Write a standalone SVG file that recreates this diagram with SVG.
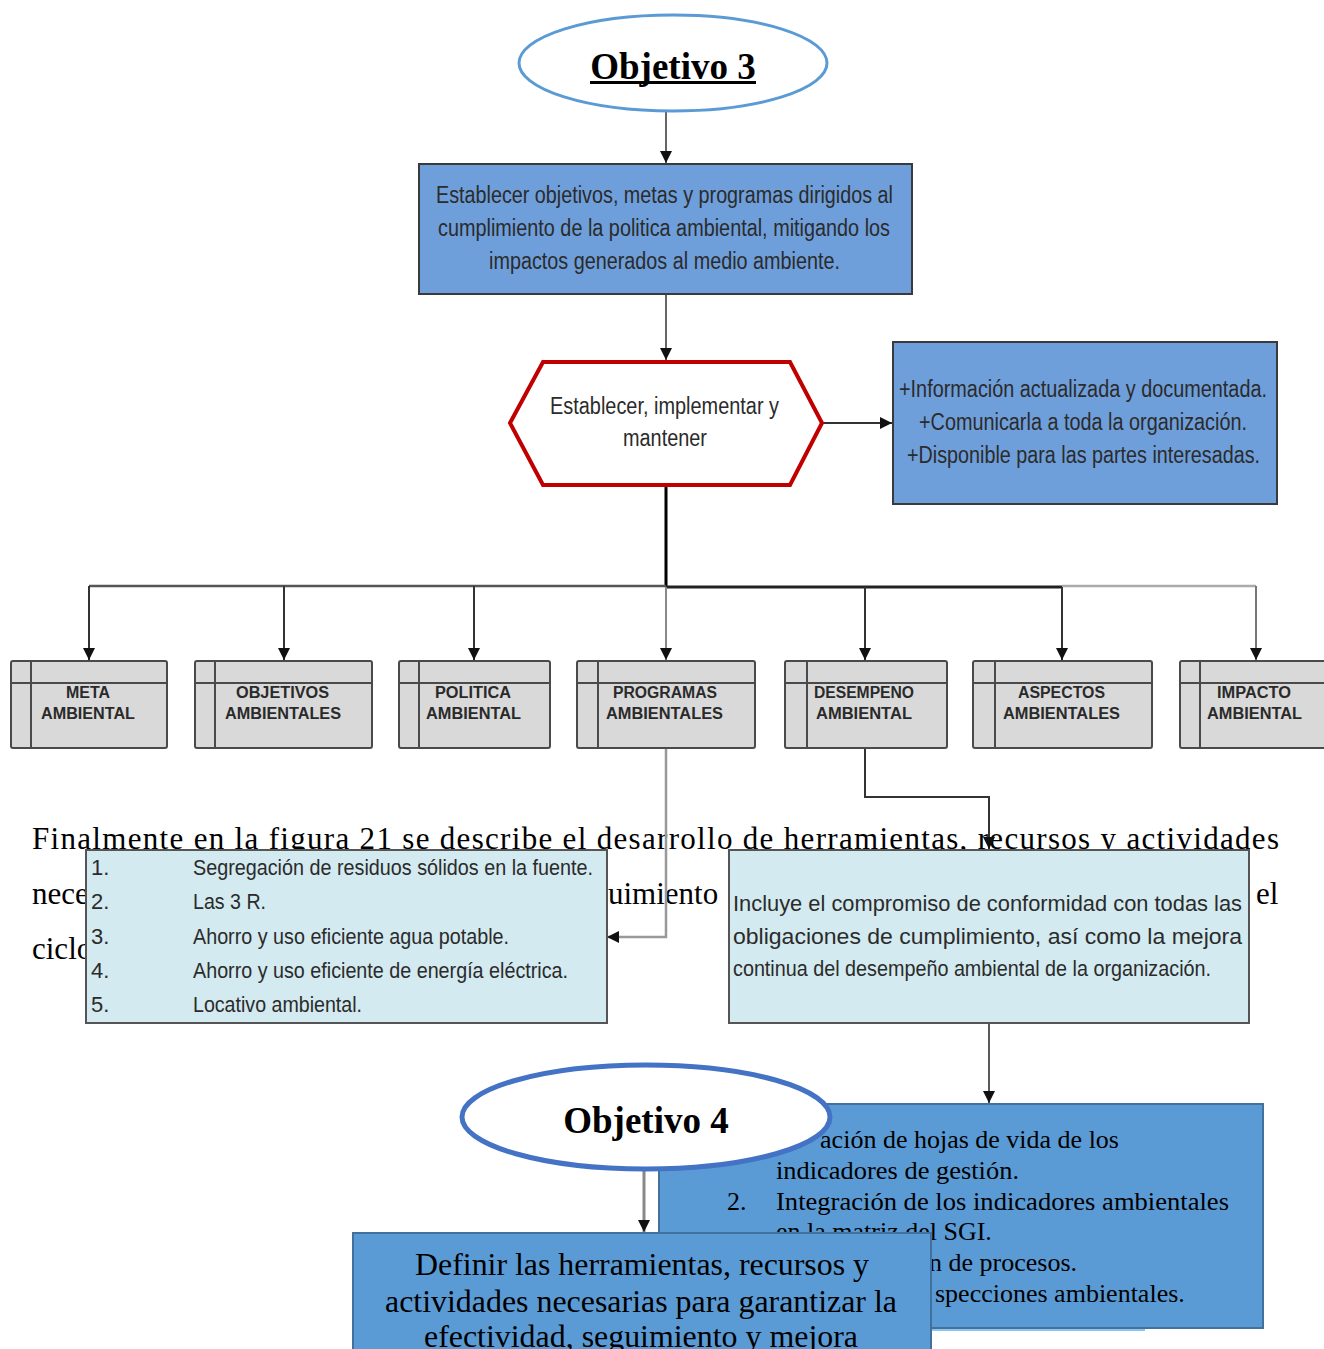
<svg xmlns="http://www.w3.org/2000/svg" width="1324" height="1349" viewBox="0 0 1324 1349">
<defs>
<marker id="arr" markerUnits="userSpaceOnUse" markerWidth="12" markerHeight="14" refX="12" refY="6" orient="auto">
<path d="M0,0 L12,6 L0,12 Z" fill="#111"/>
</marker>
<style>
.sans{font-family:"Liberation Sans",Arial,sans-serif;fill:#2b2b2b;}
.t23{font-size:23px;}
.t22{font-size:22px;}
.lbl{font-family:"Liberation Sans",Arial,sans-serif;font-weight:bold;font-size:16px;fill:#2a2a2a;}
.serif{font-family:"Liberation Serif","Times New Roman",serif;fill:#000;}
.gbox{fill:#d9d9d9;stroke:#4a4a4a;stroke-width:2;}
.gline{stroke:#4a4a4a;stroke-width:2;fill:none;}
.conn{fill:none;stroke:#333;stroke-width:2;}
.blue{fill:#5b9bd5;stroke:#41719c;stroke-width:2;}
.blue2{fill:#6e9fdb;stroke:#3a3a3a;stroke-width:2;}
.light{fill:#d3eaf0;stroke:#555;stroke-width:2;}
</style>
</defs>

<g id="paragraph">
<text class="serif" x="32" y="849" font-size="31" textLength="1247" lengthAdjust="spacing">Finalmente en la figura 21 se describe el desarrollo de herramientas, recursos y actividades</text>
<text class="serif" x="32" y="904" font-size="31">nece</text>
<text class="serif" x="608" y="904" font-size="31">uimiento</text>
<text class="serif" x="1256" y="904" font-size="31">el</text>
<text class="serif" x="32" y="959" font-size="31">ciclo</text>
</g>

<g id="connectors">
<line x1="666" y1="112" x2="666" y2="163" stroke="#666" stroke-width="2" marker-end="url(#arr)"/>
<line x1="666" y1="294" x2="666" y2="360" stroke="#666" stroke-width="2" marker-end="url(#arr)"/>
<line x1="822" y1="423" x2="892" y2="423" stroke="#333" stroke-width="2" marker-end="url(#arr)"/>
<line x1="666" y1="486" x2="666" y2="587" stroke="#000" stroke-width="3"/>
<line x1="89" y1="586" x2="666" y2="586" stroke="#555" stroke-width="2.5"/>
<line x1="666" y1="587" x2="1062" y2="587" stroke="#222" stroke-width="3"/>
<line x1="1062" y1="586" x2="1256" y2="586" stroke="#aaa" stroke-width="2.5"/>
<line x1="89" y1="586" x2="89" y2="660" class="conn" marker-end="url(#arr)"/>
<line x1="284" y1="586" x2="284" y2="660" class="conn" stroke="#555" marker-end="url(#arr)"/>
<line x1="474" y1="586" x2="474" y2="660" class="conn" marker-end="url(#arr)"/>
<line x1="666" y1="587" x2="666" y2="660" stroke="#888" stroke-width="2" marker-end="url(#arr)"/>
<line x1="865" y1="587" x2="865" y2="660" class="conn" marker-end="url(#arr)"/>
<line x1="1062" y1="587" x2="1062" y2="660" class="conn" marker-end="url(#arr)"/>
<line x1="1256" y1="586" x2="1256" y2="660" stroke="#777" stroke-width="2" marker-end="url(#arr)"/>
<polyline points="666,748 666,937 607,937" fill="none" stroke="#999" stroke-width="2.5" marker-end="url(#arr)"/>
<polyline points="865,748 865,797 989,797 989,849" class="conn" marker-end="url(#arr)"/>
<line x1="989" y1="1023" x2="989" y2="1103" stroke="#222" stroke-width="1.5" marker-end="url(#arr)"/>
<line x1="644" y1="1170" x2="644" y2="1232" stroke="#888" stroke-width="3" marker-end="url(#arr)"/>
</g>

<g id="objetivo3">
<ellipse cx="673" cy="63" rx="154" ry="48" fill="#fff" stroke="#5b9bd5" stroke-width="3"/>
<text class="serif" x="673" y="79" font-size="37" font-weight="bold" text-anchor="middle">Objetivo 3</text>
<rect x="590" y="81" width="166" height="3" fill="#000"/>
</g>

<g id="establecer-objetivos">
<rect x="419" y="164" width="493" height="130" class="blue2"/>
<text class="sans t23" x="436" y="203" textLength="457" lengthAdjust="spacingAndGlyphs">Establecer objetivos, metas y programas dirigidos al</text>
<text class="sans t23" x="438" y="236" textLength="452" lengthAdjust="spacingAndGlyphs">cumplimiento de la politica ambiental, mitigando los</text>
<text class="sans t23" x="489" y="269" textLength="351" lengthAdjust="spacingAndGlyphs">impactos generados al medio ambiente.</text>
</g>

<g id="hexagono">
<polygon points="510,423 543,362 790,362 822,423 790,485 543,485" fill="#fff" stroke="#c00000" stroke-width="4"/>
<text class="sans t23" x="550" y="414" textLength="229" lengthAdjust="spacingAndGlyphs">Establecer, implementar y</text>
<text class="sans t23" x="623" y="446" textLength="84" lengthAdjust="spacingAndGlyphs">mantener</text>
</g>

<g id="informacion">
<rect x="893" y="342" width="384" height="162" class="blue2"/>
<text class="sans t23" x="899" y="397" textLength="368" lengthAdjust="spacingAndGlyphs">+Información actualizada y documentada.</text>
<text class="sans t23" x="919" y="430" textLength="328" lengthAdjust="spacingAndGlyphs">+Comunicarla a toda la organización.</text>
<text class="sans t23" x="907" y="463" textLength="353" lengthAdjust="spacingAndGlyphs">+Disponible para las partes interesadas.</text>
</g>

<g id="meta">
<rect x="11" y="661" width="156" height="87" rx="2" class="gbox"/>
<line x1="31" y1="661" x2="31" y2="748" class="gline"/><line x1="11" y1="683" x2="167" y2="683" class="gline"/>
<text class="lbl" x="66" y="698" textLength="44" lengthAdjust="spacingAndGlyphs">META</text>
<text class="lbl" x="41" y="719" textLength="94" lengthAdjust="spacingAndGlyphs">AMBIENTAL</text>
</g>
<g id="objetivos">
<rect x="195" y="661" width="177" height="87" rx="2" class="gbox"/>
<line x1="215" y1="661" x2="215" y2="748" class="gline"/><line x1="195" y1="683" x2="372" y2="683" class="gline"/>
<text class="lbl" x="236" y="698" textLength="93" lengthAdjust="spacingAndGlyphs">OBJETIVOS</text>
<text class="lbl" x="225" y="719" textLength="116" lengthAdjust="spacingAndGlyphs">AMBIENTALES</text>
</g>
<g id="politica">
<rect x="399" y="661" width="151" height="87" rx="2" class="gbox"/>
<line x1="419" y1="661" x2="419" y2="748" class="gline"/><line x1="399" y1="683" x2="550" y2="683" class="gline"/>
<text class="lbl" x="435" y="698" textLength="76" lengthAdjust="spacingAndGlyphs">POLITICA</text>
<text class="lbl" x="426" y="719" textLength="95" lengthAdjust="spacingAndGlyphs">AMBIENTAL</text>
</g>
<g id="programas">
<rect x="577" y="661" width="178" height="87" rx="2" class="gbox"/>
<line x1="598" y1="661" x2="598" y2="748" class="gline"/><line x1="577" y1="683" x2="755" y2="683" class="gline"/>
<text class="lbl" x="613" y="698" textLength="104" lengthAdjust="spacingAndGlyphs">PROGRAMAS</text>
<text class="lbl" x="606" y="719" textLength="117" lengthAdjust="spacingAndGlyphs">AMBIENTALES</text>
</g>
<g id="desempeno">
<rect x="785" y="661" width="162" height="87" rx="2" class="gbox"/>
<line x1="807" y1="661" x2="807" y2="748" class="gline"/><line x1="785" y1="683" x2="947" y2="683" class="gline"/>
<text class="lbl" x="814" y="698" textLength="100" lengthAdjust="spacingAndGlyphs">DESEMPENO</text>
<text class="lbl" x="816" y="719" textLength="96" lengthAdjust="spacingAndGlyphs">AMBIENTAL</text>
</g>
<g id="aspectos">
<rect x="973" y="661" width="179" height="87" rx="2" class="gbox"/>
<line x1="995" y1="661" x2="995" y2="748" class="gline"/><line x1="973" y1="683" x2="1152" y2="683" class="gline"/>
<text class="lbl" x="1018" y="698" textLength="87" lengthAdjust="spacingAndGlyphs">ASPECTOS</text>
<text class="lbl" x="1003" y="719" textLength="117" lengthAdjust="spacingAndGlyphs">AMBIENTALES</text>
</g>
<g id="impacto">
<rect x="1180" y="661" width="160" height="87" rx="2" class="gbox"/>
<line x1="1200" y1="661" x2="1200" y2="748" class="gline"/><line x1="1180" y1="683" x2="1340" y2="683" class="gline"/>
<text class="lbl" x="1217" y="698" textLength="74" lengthAdjust="spacingAndGlyphs">IMPACTO</text>
<text class="lbl" x="1207" y="719" textLength="95" lengthAdjust="spacingAndGlyphs">AMBIENTAL</text>
</g>

<g id="lista-programas">
<rect x="86" y="850" width="521" height="173" class="light"/>
<g class="sans t22">
<text x="91" y="875">1.</text><text x="193" y="875" textLength="400" lengthAdjust="spacingAndGlyphs">Segregación de residuos sólidos en la fuente.</text>
<text x="91" y="909">2.</text><text x="193" y="909" textLength="73" lengthAdjust="spacingAndGlyphs">Las 3 R.</text>
<text x="91" y="944">3.</text><text x="193" y="944" textLength="316" lengthAdjust="spacingAndGlyphs">Ahorro y uso eficiente agua potable.</text>
<text x="91" y="978">4.</text><text x="193" y="978" textLength="375" lengthAdjust="spacingAndGlyphs">Ahorro y uso eficiente de energía eléctrica.</text>
<text x="91" y="1012">5.</text><text x="193" y="1012" textLength="169" lengthAdjust="spacingAndGlyphs">Locativo ambiental.</text>
</g>
</g>

<g id="compromiso">
<rect x="729" y="850" width="520" height="173" class="light"/>
<text class="sans t22" x="733" y="911" textLength="509" lengthAdjust="spacingAndGlyphs">Incluye el compromiso de conformidad con todas las</text>
<text class="sans t22" x="733" y="944" textLength="509" lengthAdjust="spacingAndGlyphs">obligaciones de cumplimiento, así como la mejora</text>
<text class="sans t22" x="733" y="976" textLength="478" lengthAdjust="spacingAndGlyphs">continua del desempeño ambiental de la organización.</text>
</g>

<g id="indicadores">
<rect x="659" y="1104" width="604" height="224" class="blue"/>
<line x1="660" y1="1330" x2="1145" y2="1330" stroke="#8cc4ee" stroke-width="2"/>
<g class="serif" font-size="26">
<text x="1119" y="1148" text-anchor="end">ación de hojas de vida de los</text>
<text x="776" y="1179" textLength="243" lengthAdjust="spacingAndGlyphs">indicadores de gestión.</text>
<text x="727" y="1210">2.</text>
<text x="776" y="1210" textLength="453" lengthAdjust="spacingAndGlyphs">Integración de los indicadores ambientales</text>
<text x="776" y="1240">en la matriz del SGI.</text>
<text x="929" y="1271">n de procesos.</text>
<text x="935" y="1302">specciones ambientales.</text>
</g>
</g>

<g id="objetivo4">
<ellipse cx="646" cy="1117" rx="184" ry="52" fill="#fff" stroke="#4472c4" stroke-width="5"/>
<text class="serif" x="646" y="1133" font-size="37" font-weight="bold" text-anchor="middle">Objetivo 4</text>
</g>

<g id="definir">
<rect x="353" y="1233" width="578" height="130" class="blue"/>
<text class="serif" x="415" y="1275" font-size="31" textLength="454" lengthAdjust="spacingAndGlyphs">Definir las herramientas, recursos y</text>
<text class="serif" x="385" y="1312" font-size="31" textLength="512" lengthAdjust="spacingAndGlyphs">actividades necesarias para garantizar la</text>
<text class="serif" x="424" y="1347" font-size="31" textLength="434" lengthAdjust="spacingAndGlyphs">efectividad, seguimiento y mejora</text>
</g>
</svg>
